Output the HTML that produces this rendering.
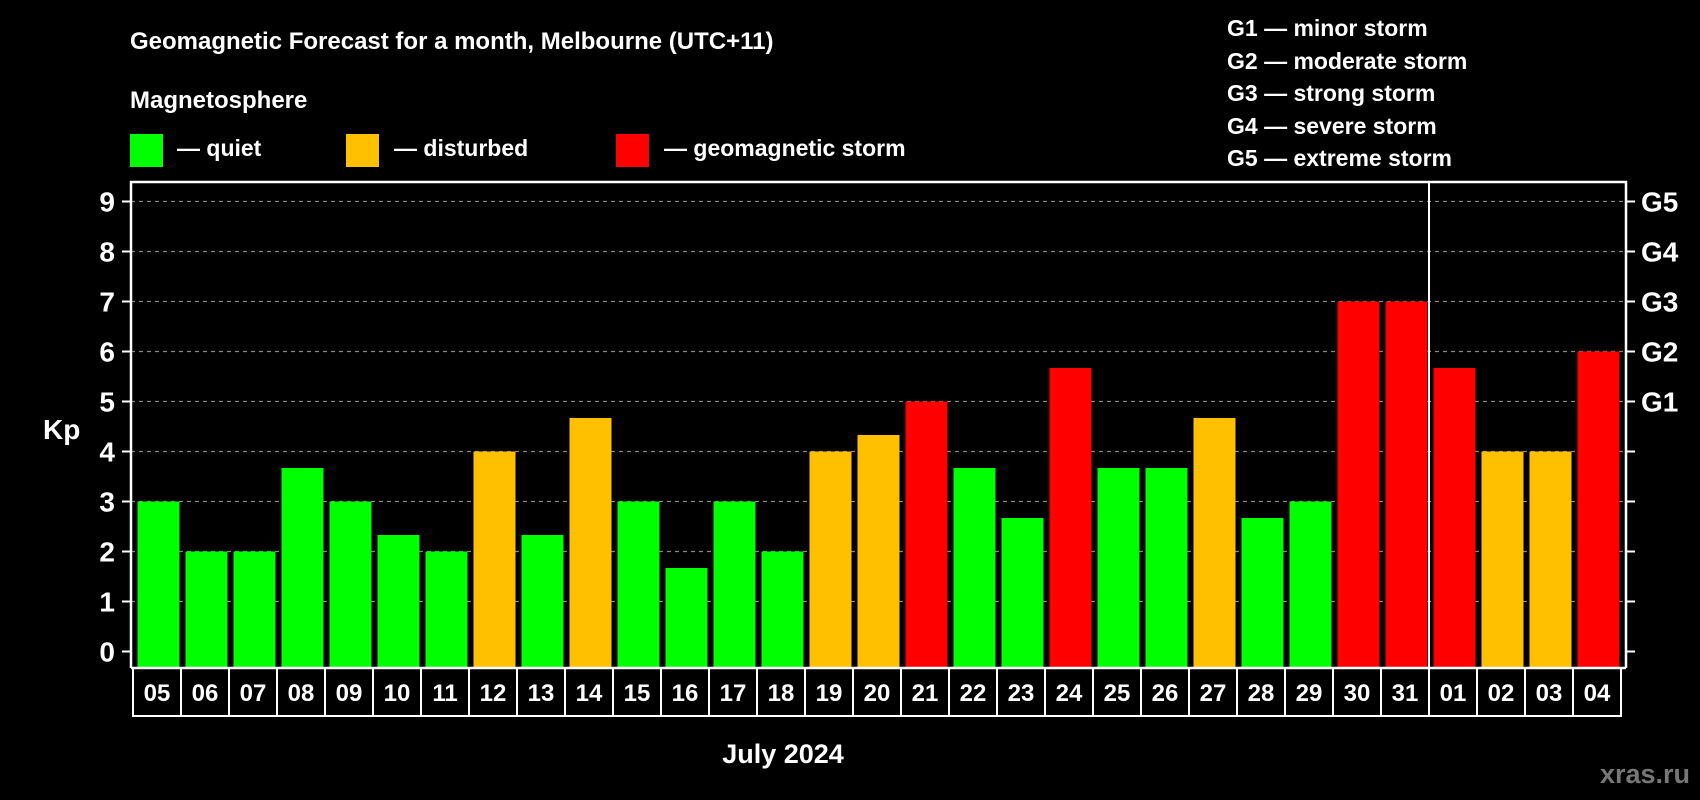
<!DOCTYPE html>
<html><head><meta charset="utf-8">
<style>
html,body{margin:0;padding:0;background:#000;}
svg{display:block;font-family:"Liberation Sans",Arial,sans-serif;font-weight:bold;}
</style></head>
<body>
<svg id="chart" width="1700" height="800" viewBox="0 0 1700 800" xmlns="http://www.w3.org/2000/svg">
<rect x="0" y="0" width="1700" height="800" fill="#000"/>
<text x="130" y="49" fill="#fff" font-size="24">Geomagnetic Forecast for a month, Melbourne (UTC+11)</text>
<text x="130" y="108" fill="#fff" font-size="24">Magnetosphere</text>
<g>
<rect x="130" y="134" width="33" height="33" fill="#00ff00"/>
<text x="177" y="156" fill="#fff" font-size="23">— quiet</text>
<rect x="346" y="134" width="33" height="33" fill="#ffc000"/>
<text x="394" y="156" fill="#fff" font-size="23">— disturbed</text>
<rect x="616" y="134" width="33" height="33" fill="#ff0000"/>
<text x="664" y="156" fill="#fff" font-size="23">— geomagnetic storm</text>
</g>
<g fill="#fff" font-size="23">
<text x="1227" y="36">G1 — minor storm</text>
<text x="1227" y="69">G2 — moderate storm</text>
<text x="1227" y="101">G3 — strong storm</text>
<text x="1227" y="134">G4 — severe storm</text>
<text x="1227" y="166">G5 — extreme storm</text>
</g>
<text x="43" y="439" fill="#fff" font-size="28">Kp</text>
<text x="783" y="763" fill="#fff" font-size="27" text-anchor="middle">July 2024</text>
<text x="1690" y="783" fill="#777" font-size="27" text-anchor="end">xras.ru</text>
<g id="grid"></g>
<g id="bars"></g>
<g id="axes"></g>
</svg>
<script>
const days = ["05","06","07","08","09","10","11","12","13","14","15","16","17","18","19","20","21","22","23","24","25","26","27","28","29","30","31","01","02","03","04"];
const kpValues = [3,2,2,3.67,3,2.33,2,4,2.33,4.67,3,1.67,3,2,4,4.33,5,3.67,2.67,5.67,3.67,3.67,4.67,2.67,3,7,7,5.67,4,4,6];
const yTicks = [0,1,2,3,4,5,6,7,8,9];
const gLabels = ["","","","","","G1","G2","G3","G4","G5"];
const monthBreakIndex = 27;

const NS = "http://www.w3.org/2000/svg";
const plotL = 131, plotR = 1626, plotT = 182, plotB = 668;
const cellX0 = 133, cellW = 48, barOff = 4.5, barW = 42;
const y = v => 651.5 - 50 * v;
const x = i => cellX0 + cellW * i;
function mk(tag, attrs, parent) {
  const e = document.createElementNS(NS, tag);
  for (const k in attrs) e.setAttribute(k, attrs[k]);
  parent.appendChild(e);
  return e;
}
const grid = document.getElementById("grid");
const bars = document.getElementById("bars");
const axes = document.getElementById("axes");

yTicks.forEach((t, i) => {
  if (t > 0) {
    const gl = mk("line", {x1: plotL, x2: plotR, y1: y(t), y2: y(t), stroke: "#888", "stroke-width": 1.3, "stroke-dasharray": "4,4"}, grid);
    
    
  }
  const lt = mk("line", {x1: plotL - 9, x2: plotL, y1: y(t), y2: y(t), stroke: "#fff", "stroke-width": 2}, axes);
  
  
  const rt = mk("line", {x1: plotR, x2: plotR + 9, y1: y(t), y2: y(t), stroke: "#fff", "stroke-width": 2}, axes);
  
  
  const lab = mk("text", {x: 115, y: y(t) + 10, fill: "#fff", "font-size": 28, "text-anchor": "end"}, axes);
  lab.textContent = t;
  
  
  if (gLabels[i]) {
    const g = mk("text", {x: 1641, y: y(t) + 10, fill: "#fff", "font-size": 28}, axes);
    g.textContent = gLabels[i];
    
    
  }
});

kpValues.forEach((v, i) => {
  const col = v >= 5 ? "#ff0000" : (v >= 4 ? "#ffc000" : "#00ff00");
  const top = y(v);
  const b = mk("rect", {x: x(i) + barOff, y: top, width: barW, height: plotB - top, fill: col}, bars);
  
  
  const c = mk("rect", {x: x(i), y: plotB, width: cellW, height: 48, fill: "none", stroke: "#fff", "stroke-width": 2}, axes);
  
  
  const t = mk("text", {x: x(i) + cellW / 2, y: plotB + 33, fill: "#fff", "font-size": 24, "text-anchor": "middle"}, axes);
  t.textContent = days[i];
  
  
});

const frame = mk("path", {d: `M${plotL},${plotB} L${plotL},${plotT} L${plotR},${plotT} L${plotR},${plotB}`, fill: "none", stroke: "#fff", "stroke-width": 2.5}, axes);


const xa = mk("line", {x1: plotL, x2: plotR, y1: plotB, y2: plotB, stroke: "#fff", "stroke-width": 2.5}, axes);


const sep = mk("line", {x1: x(monthBreakIndex), x2: x(monthBreakIndex), y1: plotT, y2: plotB + 48, stroke: "#fff", "stroke-width": 2}, axes);


</script>
</body></html>
